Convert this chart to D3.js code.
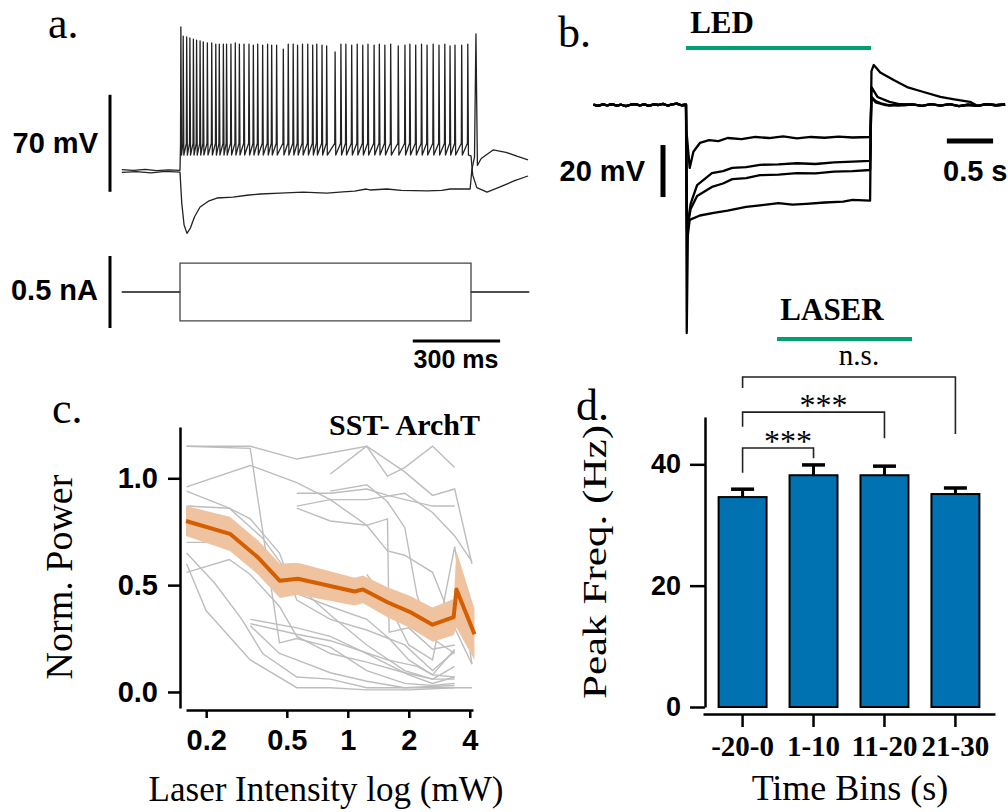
<!DOCTYPE html>
<html>
<head>
<meta charset="utf-8">
<script src="https://cdn.jsdelivr.net/npm/d3@7"></script>
<style>
  body { margin: 0; background: #fff; }
  svg { display: block; }
  .sans { font-family: "Liberation Sans", Arial, sans-serif; font-weight: bold; }
  .serif { font-family: "Liberation Serif", "Times New Roman", serif; }
</style>
</head>
<body>
<svg id="fig" width="1008" height="812"></svg>
<script>
// ---------- panel a : current step (nA) and membrane potential (mV), time in ms
const currentUp = [[-200, 0], [0, 0], [0, 0.2], [1000, 0.2], [1000, 0], [1200, 0]];
const currentDown = [[-200, 0], [0, 0], [0, -0.2], [1000, -0.2], [1000, 0], [1200, 0]];

const spikeTimes = [3, 11, 23, 34, 46, 57, 69, 80, 94, 109, 123, 135, 149, 160, 175, 190, 204, 220, 237, 252,
  267, 284, 301, 315, 332, 355, 372, 389, 404, 421, 439, 456, 470, 488, 504, 533, 553, 570, 590, 609,
  628, 646, 667, 685, 704, 724, 750, 773, 790, 810, 830, 849, 870, 890, 910, 928, 945, 968, 989];
const spikePeaks = [38.9, 32.4, 31.7, 31, 30.2, 29.5, 28.8, 28.1, 27.4, 27.4, 26.6, 26.6, 26.6, 26.6, 26.6, 27.4, 26.6, 26.6, 26.6, 25.9,
  26.6, 25.9, 26.6, 25.9, 25.9, 23, 26.6, 26.6, 25.9, 26.6, 26.6, 25.9, 26.6, 25.9, 25.2, 20.9, 26.6, 26.6, 25.9, 26.6,
  25.9, 26.6, 25.9, 26.6, 25.9, 26.6, 25.2, 25.9, 26.6, 25.9, 26.6, 25.9, 26.6, 25.9, 26.6, 25.2, 25.9, 25.9, 26.6];
const spikeThreshold = -45;
const spikeTrough = -53.5;
const restSpiking = [[-200, -64], [-160, -64.6], [-120, -63.9], [-80, -64.8], [-40, -64.2], [0, -64.5]];
const tailSpiking = [[1000, -54], [1006, -68], [1020, -77], [1055, -80.2], [1100, -76.5], [1150, -72], [1196, -68.6]];
const hyperTrace = [[-200, -66], [-150, -65.5], [-100, -66.4], [-50, -65.3], [0, -65.8], [6, -88], [14, -104],
  [24, -110], [36, -106], [50, -98], [69, -91], [100, -86.5], [127, -84.5], [182, -83.8], [230, -82.5],
  [275, -81.6], [344, -80.9], [423, -80.2], [505, -80.9], [560, -80], [600, -79.5], [640, -78], [653, -78.7],
  [711, -78], [760, -79], [849, -79.4], [900, -79], [928, -78], [997, -78], [1003, -64], [1012, -55],
  [1017, 34], [1022, -61], [1035, -56], [1076, -49.8], [1120, -51.5], [1160, -54.5], [1196, -57]];

// ---------- panel b : LED responses, time in s, dV in mV
const preNoise = [[-1, 0.1], [-0.95, -0.3], [-0.9, 0.2], [-0.85, -0.1], [-0.8, 0.3], [-0.75, -0.2], [-0.7, 0.1],
  [-0.65, -0.4], [-0.6, 0.1], [-0.55, 0.3], [-0.5, -0.1], [-0.45, 0.2], [-0.4, -0.3], [-0.35, 0.2], [-0.3, 0],
  [-0.25, 0.4], [-0.2, -0.2], [-0.15, 0.2], [-0.1, 0.5], [-0.05, -0.1], [0, 0.1]];
const postNoise = [[2.45, 0.2], [2.55, -0.3], [2.65, 0.3], [2.75, -0.2], [2.85, 0.3], [2.95, -0.4], [3.05, 0.1],
  [3.15, -0.3], [3.25, 0.3], [3.35, -0.1], [3.45, 0.2]];
const ledT1 = [[0.005, -10], [0.04, -24.2], [0.08, -18], [0.15, -14.6], [0.25, -13.5], [0.35, -13.9], [0.45, -12.7],
  [0.6, -13.1], [0.75, -12.3], [0.9, -12.7], [1.05, -12.1], [1.2, -12.8], [1.35, -12.3], [1.5, -12.6], [1.65, -12.2],
  [1.8, -12.5], [1.99, -12.3], [2.005, 3], [2.05, 1.5], [2.12, 0.5], [2.2, -0.2], [2.3, 0.3]];
const ledT2 = [[0.01, -48], [0.05, -38], [0.12, -30.8], [0.28, -26.2], [0.4, -25.4], [0.5, -24.2], [0.65, -23.9],
  [0.8, -23], [1.0, -22.8], [1.2, -22.4], [1.4, -22.7], [1.6, -22.1], [1.8, -21.8], [1.99, -21.5],
  [2.005, 3], [2.05, 1], [2.15, 0], [2.3, -0.2]];
const ledT3 = [[0.012, -48], [0.05, -40], [0.12, -35], [0.28, -31.5], [0.4, -30.2], [0.5, -28.5], [0.65, -28.1],
  [0.8, -27], [1.0, -26.8], [1.2, -26.2], [1.4, -26.3], [1.6, -25.6], [1.8, -25.4], [1.99, -25],
  [2.005, 6.9], [2.07, 3.1], [2.2, 1.2], [2.35, 0]];
const ledT4 = [[0.008, -87.7], [0.02, -50], [0.04, -44.2], [0.15, -42.5], [0.3, -41.5], [0.45, -40.6], [0.65, -39.2],
  [0.8, -38.6], [1.0, -37.7], [1.15, -38.3], [1.3, -38], [1.5, -37.5], [1.7, -37.2], [1.8, -36.5], [1.99, -36.8],
  [2.005, 13], [2.03, 15.4], [2.1, 12.5], [2.25, 9.5], [2.39, 6.9], [2.55, 5.2], [2.75, 3.1], [2.9, 2.2], [3.07, 1.2]];

// ---------- panel c : normalized power vs laser intensity (mW)
const meanIntensity = [0.159, 0.262, 0.36, 0.462, 0.567, 1.08, 1.19, 1.57, 2.02, 2.62, 3.33, 3.44, 4.22];
const meanPower = [0.80, 0.74, 0.63, 0.52, 0.53, 0.47, 0.48, 0.42, 0.375, 0.315, 0.35, 0.48, 0.27];
const semPower = [0.07, 0.08, 0.08, 0.08, 0.075, 0.065, 0.065, 0.07, 0.075, 0.08, 0.085, 0.18, 0.12];
const cellTraces = [
  [[0.16, 1.15], [0.33, 1.15], [0.56, 1.09], [1.24, 1.15], [1.57, 1.01], [1.91, 1.05], [2.62, 1.15], [3.37, 1.05]],
  [[0.16, 1.15], [0.33, 1.14], [0.46, 0.23], [0.56, 0.25], [0.82, 0.21], [1.24, 0.10], [1.91, 0.04], [2.62, 0.03], [3.37, 0.04]],
  [[0.16, 0.96], [0.33, 1.06], [0.56, 0.98], [0.82, 0.90], [1.24, 0.78], [1.57, 0.66], [1.91, 0.64], [2.62, 0.56], [3.37, 0.30], [4.1, 0.13]],
  [[0.16, 0.94], [0.26, 0.86], [0.33, 0.81], [0.46, 0.65], [0.56, 0.43], [0.82, 0.34], [1.24, 0.29], [1.91, 0.22], [2.62, 0.10], [3.37, 0.19]],
  [[0.16, 0.87], [0.26, 0.86], [0.38, 0.72], [0.56, 0.50], [0.82, 0.36], [1.24, 0.22], [1.91, 0.10], [2.62, 0.06], [3.37, 0.12]],
  [[0.16, 0.70], [0.26, 0.70], [0.38, 0.56], [0.56, 0.46], [0.82, 0.40], [1.24, 0.34], [1.6, 0.25], [2.0, 0.15], [2.62, 0.08], [3.37, 0.07]],
  [[0.16, 0.65], [0.22, 0.51], [0.3, 0.34], [0.38, 0.18], [0.56, 0.07], [0.82, 0.06], [1.24, 0.02], [1.91, 0.02], [3.37, 0.02]],
  [[0.16, 0.60], [0.2, 0.38], [0.33, 0.15], [0.56, 0.02], [0.82, 0.02], [1.24, 0.01], [2.0, 0.01], [3.37, 0.02], [4.1, 0.02]],
  [[0.16, 0.56], [0.26, 0.62], [0.33, 0.55], [0.46, 0.40], [0.56, 0.26], [0.82, 0.18], [1.24, 0.14], [1.91, 0.09], [2.62, 0.06], [3.37, 0.06]],
  [[0.33, 0.34], [0.56, 0.30], [0.82, 0.26], [1.24, 0.18], [1.57, 0.13], [2.0, 0.08], [2.62, 0.04], [3.37, 0.07]],
  [[0.33, 0.31], [0.46, 0.18], [0.56, 0.15], [0.82, 0.09], [1.24, 0.05], [1.91, 0.02], [3.37, 0.03]],
  [[0.33, 0.32], [0.56, 0.27], [0.82, 0.24], [1.1, 0.20], [1.57, 0.15], [2.2, 0.12], [2.62, 0.08], [3.37, 0.20]],
  [[0.56, 0.93], [0.82, 0.93], [1.24, 0.95], [1.57, 0.92], [2.62, 0.87], [3.37, 0.87]],
  [[0.56, 0.87], [0.82, 0.90], [1.24, 0.90], [1.91, 0.93], [2.62, 0.84], [3.37, 0.73], [4.1, 0.61]],
  [[0.56, 0.86], [0.82, 0.80], [1.24, 0.78], [1.57, 0.81], [1.6, 0.28], [2.0, 0.30], [2.62, 0.20], [3.37, 0.22]],
  [[0.82, 0.94], [1.24, 0.97], [1.57, 0.89], [1.91, 0.77], [2.2, 0.45], [2.62, 0.25], [3.37, 0.18]],
  [[1.24, 0.55], [1.57, 0.42], [2.0, 0.22], [2.62, 0.15], [3.37, 0.68], [4.1, 0.13]],
  [[0.82, 1.02], [1.24, 1.15], [1.91, 1.03], [2.62, 0.92], [3.37, 0.95], [4.1, 0.60]]
];
const intensityTicks = [0.2, 0.5, 1, 2, 4];
const powerTicks = [0, 0.5, 1.0];

// ---------- panel d : peak frequency per time bin
const timeBins = ["-20-0", "1-10", "11-20", "21-30"];
const peakFreq = [34.6, 38.2, 38.2, 35.1];
const peakFreqErr = [1.3, 1.7, 1.5, 1.0];
const freqTicks = [0, 20, 40];
const comparisons = [
  { a: 0, b: 1, top: 42.7, leftEnd: 38.6, rightEnd: 41.0, label: "***" },
  { a: 0, b: 2, top: 48.6, leftEnd: 46.2, rightEnd: 44.3, label: "***" },
  { a: 0, b: 3, top: 54.4, leftEnd: 52.6, rightEnd: 45.0, label: "n.s." }
];

const green = "#009E73";
const svg = d3.select("#fig");

function text(x, y, str, cls, size, anchor) {
  return svg.append("text")
    .attr("x", x).attr("y", y)
    .attr("class", cls)
    .attr("font-size", size)
    .attr("text-anchor", anchor || "start")
    .text(str);
}

// ================= panel a =================
const xa = d3.scaleLinear().domain([0, 1000]).range([180, 471]);
const ya = d3.scaleLinear().domain([-65, 5]).range([171, 74]);
const yi = d3.scaleLinear().domain([0, 0.5]).range([292, 220]);

const lineA = d3.line().x(d => xa(d[0])).y(d => ya(d[1]));
const lineI = d3.line().x(d => xa(d[0])).y(d => yi(d[1]));

const spikePts = restSpiking.slice();
spikeTimes.forEach((t, i) => {
  spikePts.push([t - 1.2, spikeThreshold], [t, spikePeaks[i]], [t + 2.2, spikeTrough]);
});
tailSpiking.forEach(p => spikePts.push(p));

[hyperTrace, spikePts].forEach(tr => {
  svg.append("path").datum(tr)
    .attr("d", lineA)
    .attr("fill", "none")
    .attr("stroke", "#222")
    .attr("stroke-width", 1.3)
    .attr("stroke-linejoin", "round");
});
[currentUp, currentDown].forEach(tr => {
  svg.append("path").datum(tr)
    .attr("d", lineI)
    .attr("fill", "none")
    .attr("stroke", "#444")
    .attr("stroke-width", 1.3);
});

// scale bars
svg.append("line").attr("x1", 110).attr("x2", 110).attr("y1", ya(-80)).attr("y2", ya(-10))
  .attr("stroke", "#000").attr("stroke-width", 3);
svg.append("line").attr("x1", 110).attr("x2", 110).attr("y1", yi(-0.25)).attr("y2", yi(0.25))
  .attr("stroke", "#000").attr("stroke-width", 3);
svg.append("line").attr("x1", xa(800)).attr("x2", xa(1100)).attr("y1", 341).attr("y2", 341)
  .attr("stroke", "#000").attr("stroke-width", 3);
text(98, 153, "70 mV", "sans", 29, "end");
text(98, 300, "0.5 nA", "sans", 29, "end");
text(456, 368, "300 ms", "sans", 25, "middle");
text(48, 38, "a.", "serif", 44);

// ================= panel b =================
const xb = d3.scaleLinear().domain([0, 2]).range([686, 871]);
const yb = d3.scaleLinear().domain([0, -20]).range([105, 157]);
const lineB = d3.line().x(d => xb(d[0])).y(d => yb(d[1]));

[ledT1, ledT2, ledT3, ledT4].forEach(tr => {
  const pts = preNoise.concat(tr, postNoise.filter(p => p[0] > tr[tr.length - 1][0]));
  svg.append("path").datum(pts)
    .attr("d", lineB)
    .attr("fill", "none")
    .attr("stroke", "#000")
    .attr("stroke-width", 2.3)
    .attr("stroke-linejoin", "round");
});
svg.append("line").attr("x1", xb(0)).attr("x2", xb(2)).attr("y1", 48).attr("y2", 48)
  .attr("stroke", green).attr("stroke-width", 4);
svg.append("line").attr("x1", 663).attr("x2", 663).attr("y1", yb(-15.4)).attr("y2", yb(-35.4))
  .attr("stroke", "#000").attr("stroke-width", 5);
svg.append("line").attr("x1", xb(2.82)).attr("x2", xb(3.32)).attr("y1", 141).attr("y2", 141)
  .attr("stroke", "#000").attr("stroke-width", 5);
text(645, 181, "20 mV", "sans", 29, "end");
text(943, 181, "0.5 s", "sans", 29);
text(722, 33, "LED", "serif", 31, "middle").attr("font-weight", "bold");
text(558, 47, "b.", "serif", 44);

// ================= panel c =================
const xc = d3.scaleLog().domain([0.159, 4.15]).range([186, 473]);
const yc = d3.scaleLinear().domain([-0.075, 1.24]).range([708, 427]);
const lineC = d3.line().x(d => xc(d[0])).y(d => yc(d[1]));

cellTraces.forEach(tr => {
  svg.append("path").datum(tr)
    .attr("d", lineC)
    .attr("fill", "none")
    .attr("stroke", "#bdbdbd")
    .attr("stroke-width", 1.4);
});
const meanData = meanIntensity.map((v, i) => ({ x: v, m: meanPower[i], s: semPower[i] }));
svg.append("path").datum(meanData)
  .attr("d", d3.area().x(d => xc(d.x)).y0(d => yc(d.m - d.s)).y1(d => yc(d.m + d.s)))
  .attr("fill", "#f0c3a0");
svg.append("path").datum(meanData)
  .attr("d", d3.line().x(d => xc(d.x)).y(d => yc(d.m)))
  .attr("fill", "none")
  .attr("stroke", "#D55E00")
  .attr("stroke-width", 4)
  .attr("stroke-linejoin", "round");

const gyc = svg.append("g").attr("transform", "translate(180,0)")
  .call(d3.axisLeft(yc).tickValues(powerTicks).tickFormat(d3.format(".1f")).tickSize(12).tickSizeOuter(0).tickPadding(10));
const gxc = svg.append("g").attr("transform", "translate(0,710)")
  .call(d3.axisBottom(xc).tickValues(intensityTicks).tickFormat(d3.format("")).tickSize(8).tickSizeOuter(0));
[gyc, gxc].forEach(g => {
  g.selectAll("path, line").attr("stroke", "#000").attr("stroke-width", 2.5);
  g.selectAll("text").attr("class", "sans").attr("font-size", 29).attr("fill", "#000");
});
gxc.selectAll("text").attr("y", 40).attr("dy", 0);
text(480, 435, "SST- ArchT", "serif", 30, "end").attr("font-weight", "bold");
text(326, 801, "Laser Intensity log (mW)", "serif", 35, "middle");
svg.append("text").attr("class", "serif").attr("font-size", 38)
  .attr("transform", "translate(72,577) rotate(-90)").attr("text-anchor", "middle")
  .text("Norm. Power");
text(52, 423, "c.", "serif", 44);

// ================= panel d =================
const xd = d3.scaleBand().domain(timeBins).range([703, 995]).paddingInner(0.324).paddingOuter(0.22);
const yd = d3.scaleLinear().domain([0, 47.8]).range([707, 417]);
const cx = k => xd(timeBins[k]) + xd.bandwidth() / 2;

svg.append("g").selectAll("line")
  .data(timeBins)
  .join("line")
  .attr("x1", d => xd(d) + xd.bandwidth() / 2)
  .attr("x2", d => xd(d) + xd.bandwidth() / 2)
  .attr("y1", (d, i) => yd(peakFreq[i]))
  .attr("y2", (d, i) => yd(peakFreq[i] + peakFreqErr[i]))
  .attr("stroke", "#000").attr("stroke-width", 3);
svg.append("g").selectAll("line")
  .data(timeBins)
  .join("line")
  .attr("x1", d => xd(d) + xd.bandwidth() / 2 - 11.5)
  .attr("x2", d => xd(d) + xd.bandwidth() / 2 + 11.5)
  .attr("y1", (d, i) => yd(peakFreq[i] + peakFreqErr[i]))
  .attr("y2", (d, i) => yd(peakFreq[i] + peakFreqErr[i]))
  .attr("stroke", "#000").attr("stroke-width", 3.5);
svg.append("g").selectAll("rect")
  .data(timeBins)
  .join("rect")
  .attr("x", d => xd(d))
  .attr("width", xd.bandwidth())
  .attr("y", (d, i) => yd(peakFreq[i]))
  .attr("height", (d, i) => yd(0) - yd(peakFreq[i]))
  .attr("fill", "#0072B2")
  .attr("stroke", "#000")
  .attr("stroke-width", 2);

const gyd = svg.append("g").attr("transform", "translate(705,0)")
  .call(d3.axisLeft(yd).tickValues(freqTicks).tickSize(15).tickSizeOuter(0).tickPadding(9));
const gxd = svg.append("g").attr("transform", "translate(0,714)")
  .call(d3.axisBottom(xd).tickSize(13).tickSizeOuter(0));
[gyd, gxd].forEach(g => {
  g.selectAll("path, line").attr("stroke", "#000").attr("stroke-width", 2.5);
  g.selectAll("text").attr("fill", "#000");
});
gyd.selectAll("text").attr("class", "sans").attr("font-size", 27);
gxd.selectAll("text").attr("class", "serif").attr("font-size", 29).attr("font-weight", "bold")
  .attr("y", 42).attr("dy", 0);

comparisons.forEach(c => {
  const x1 = cx(c.a), x2 = cx(c.b);
  svg.append("path")
    .attr("d", `M${x1},${yd(c.leftEnd)}V${yd(c.top)}H${x2}V${yd(c.rightEnd)}`)
    .attr("fill", "none").attr("stroke", "#222").attr("stroke-width", 1.6);
  text((x1 + x2) / 2 + 10, yd(c.top) - (c.label === "n.s." ? 12 : -4), c.label, "serif",
    c.label === "n.s." ? 29 : 32, "middle");
});

text(832, 320, "LASER", "serif", 31, "middle").attr("font-weight", "bold");
svg.append("line").attr("x1", 777).attr("x2", 912).attr("y1", 339).attr("y2", 339)
  .attr("stroke", green).attr("stroke-width", 4);
text(850, 800, "Time Bins (s)", "serif", 36, "middle");
svg.append("text").attr("class", "serif").attr("font-size", 34)
  .attr("transform", "translate(606,562) rotate(-90)").attr("text-anchor", "middle")
  .attr("textLength", 274).attr("lengthAdjust", "spacingAndGlyphs")
  .text("Peak Freq. (Hz)");
text(576, 420, "d.", "serif", 44);
</script>
</body>
</html>
